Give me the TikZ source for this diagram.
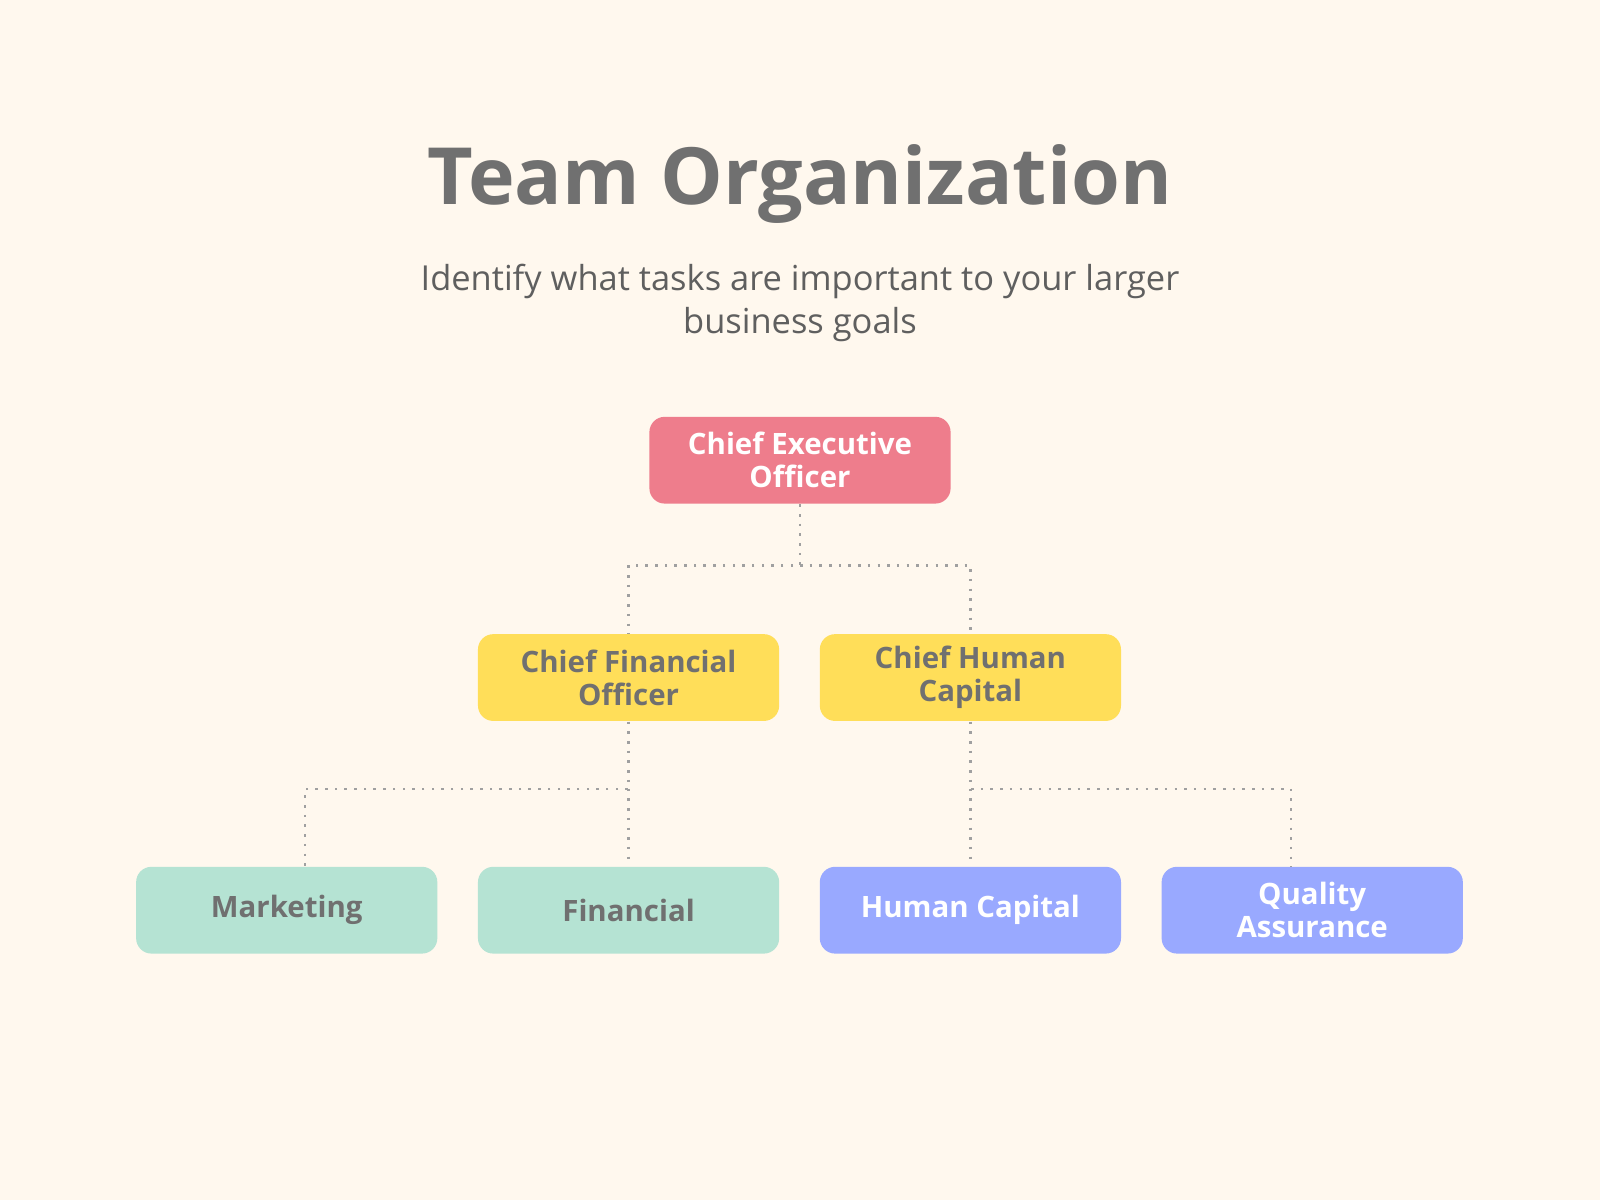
\documentclass[tikz,border=0pt]{standalone}
\usepackage{fontspec}
\setmainfont{Open Sans}
\begin{document}
\definecolor{bg}{HTML}{FFF8EE}
\definecolor{ceo}{HTML}{EE7D8C}
\definecolor{yel}{HTML}{FFDE59}
\definecolor{mint}{HTML}{B5E3D3}
\definecolor{blu}{HTML}{99A9FF}
\definecolor{txt}{HTML}{707070}
\definecolor{ln}{HTML}{A0A0A0}
\begin{tikzpicture}[x=0.01cm,y=-0.01cm,
 box/.style={rounded corners=0.15cm,minimum width=2.95cm,minimum height=0.85cm,align=center,font=\fontsize{8.2}{9.2}\selectfont\bfseries,text=txt},
 con/.style={ln,line width=0.7pt,dotted}]
\fill[bg] (0,0) rectangle (1568,1176);
\node[text=txt,font=\fontsize{22}{26}\selectfont\bfseries] (t) at (784,180) {Team Organization};
\node[text=txt!85!black,align=center,font=\fontsize{9.6}{12}\selectfont] (s) at (784,297) {Identify what tasks are important to your larger\\business goals};
\node[box,fill=ceo,text=white] (ceo) at (784,451) {Chief Executive\\Officer};
\node[box,fill=yel] (cfo) at (616,664) {Chief Financial\\Officer};
\node[box,fill=yel] (chc) at (951,664) {Chief Human\\Capital};
\node[box,fill=mint] (m) at (281,892) {Marketing};
\node[box,fill=mint] (f) at (616,892) {Financial};
\node[box,fill=blu,text=white] (h) at (951,892) {Human Capital};
\node[box,fill=blu,text=white] (q) at (1286,892) {Quality\\Assurance};
\draw[con] (ceo.south) -- (784,554) -| (cfo.north);
\draw[con] (784,554) -| (chc.north);
\draw[con] (cfo.south) -- (616,773) -| (299,850);
\draw[con] (616,773) -- (f.north);
\draw[con] (chc.south) -- (951,773) -| (1265,850);
\draw[con] (951,773) -- (h.north);
\end{tikzpicture}
\end{document}
